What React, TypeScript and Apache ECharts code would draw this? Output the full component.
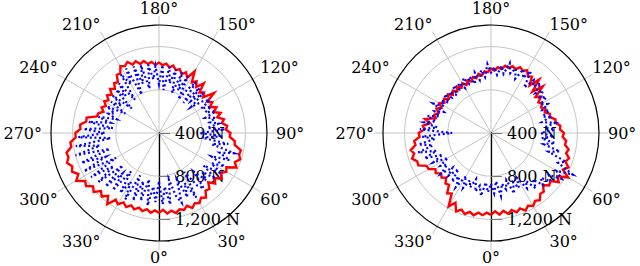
import React, { useEffect, useRef } from "react";
import * as echarts from "echarts";

// angle sampling (degrees) of each series value
const ANGLE_STEP = 3;

// left plot: measured force (red) and reference force (blue dotted), in N
const leftMeasured = [
  1140, 1112, 1150, 1128, 1158, 1132, 1150, 1122, 1160, 1130, 1150, 1115,
  1140, 1085, 1098, 1045, 1100, 1062, 1118, 1080, 1120, 1100, 1185, 1152,
  1190, 1168, 1175, 1110, 1105, 1055, 1062, 1020, 1035, 990, 1015, 958,
  1000, 942, 982, 930, 970, 932, 1030, 925, 962, 930, 1020, 948,
  992, 958, 1060, 975, 1015, 985, 1022, 1002, 1038, 1015, 1045, 1030,
  1052, 1032, 1062, 1048, 1082, 1062, 1098, 1078, 1120, 1095, 1115, 1058,
  1065, 1005, 1020, 978, 1010, 962, 995, 958, 985, 952, 982, 950,
  990, 995, 1085, 1082, 1135, 1128, 1175, 1172, 1225, 1222, 1275, 1268,
  1295, 1260, 1282, 1238, 1285, 1215, 1235, 1185, 1215, 1160, 1192, 1148,
  1215, 1135, 1162, 1122, 1150, 1118, 1143, 1115, 1140, 1114, 1142, 1118,
];
const leftReference = [
  850, 1060, 900, 1070, 840, 1000, 1080, 860, 1050, 920, 1090, 830,
  1000, 1060, 880, 1020, 940, 1070, 910, 1090, 960, 1080, 930, 1100,
  990, 1120, 900, 1050, 800, 990, 780, 1010, 850, 960, 880, 940,
  850, 960, 870, 940, 850, 960, 900, 780, 950, 820, 960, 760,
  980, 880, 760, 990, 830, 1000, 790, 1010, 870, 1020, 800, 1030,
  850, 1020, 900, 1040, 820, 1050, 880, 1060, 790, 1070, 920, 1050,
  780, 990, 860, 960, 740, 950, 830, 930, 760, 940, 850, 900,
  810, 980, 860, 1060, 830, 1100, 900, 1150, 850, 1180, 960, 1200,
  880, 1170, 940, 1180, 860, 1150, 920, 1120, 850, 1100, 900, 1080,
  840, 1060, 920, 1090, 830, 1070, 870, 1050, 840, 1080, 900, 1040,
];

// right plot
const rightMeasured = [
  1158, 1125, 1160, 1130, 1165, 1138, 1172, 1148, 1186, 1155, 1180, 1150,
  1170, 1125, 1130, 1080, 1125, 1108, 1175, 1135, 1225, 1148, 1185, 1138,
  1160, 1120, 1135, 1094, 1100, 1064, 1076, 1040, 1045, 1005, 1010, 965,
  974, 934, 950, 920, 946, 922, 972, 930, 1045, 942, 1065, 968,
  1045, 1028, 1070, 1048, 1066, 1034, 1050, 1024, 1036, 1000, 1012, 980,
  996, 964, 974, 940, 960, 925, 945, 910, 933, 898, 932, 900,
  932, 896, 928, 900, 935, 902, 938, 914, 952, 914, 952, 920,
  950, 930, 1025, 972, 1035, 1018, 1070, 1062, 1115, 1108, 1160, 1136,
  1168, 1132, 1136, 1070, 1066, 1014, 1032, 994, 1016, 986, 1030, 1018,
  1090, 1068, 1185, 1125, 1195, 1160, 1188, 1156, 1178, 1146, 1165, 1138,
];
const rightReference = [
  870, 960, 850, 990, 880, 940, 860, 1000, 900, 970, 880, 1010,
  950, 1060, 980, 1080, 1020, 1110, 1060, 1180, 1100, 1250, 1080, 1140,
  960, 1060, 900, 1000, 870, 980, 860, 990, 900, 1000, 880, 960,
  900, 980, 920, 990, 930, 1010, 960, 1020, 950, 1050, 980, 1030,
  920, 1080, 990, 1060, 950, 1040, 980, 1070, 960, 1030, 940, 1010,
  960, 1040, 920, 990, 900, 980, 880, 960, 900, 970, 880, 950,
  900, 960, 870, 940, 890, 960, 880, 950, 900, 1000, 880, 960,
  900, 1010, 920, 1030, 900, 1060, 760, 1040, 920, 1080, 950, 1100,
  930, 1060, 890, 1000, 860, 960, 900, 1000, 880, 960, 850, 980,
  900, 1000, 860, 970, 880, 940, 850, 960, 900, 990, 860, 950,
];

const angleTicks = [0, 30, 60, 90, 120, 150, 180, 210, 240, 270, 300, 330];
const radialTicks = [400, 800, 1200];
const RADIAL_MIN = 400;
const RADIAL_MAX = 1400;

const FONT = "'DejaVu Serif', 'Liberation Serif', serif";
const FONT_SIZE = 16;
const GRID = "#c4c4c4";

function toPolar(vals: number[]) {
  const d = vals.map((v, i) => [v, i * ANGLE_STEP]);
  d.push([vals[0], 360]);
  return d;
}

function angleAxis(idx: number) {
  return {
    polarIndex: idx,
    type: "value",
    min: 0,
    max: 360,
    interval: 30,
    startAngle: 270,
    clockwise: false,
    axisLine: { show: true, lineStyle: { color: "#000", width: 1.2 } },
    axisTick: { show: true, length: 9, lineStyle: { color: GRID, width: 1 } },
    axisLabel: {
      show: true,
      margin: 9,
      color: "#000",
      fontFamily: FONT,
      fontSize: FONT_SIZE,
      lineHeight: 15,
      formatter: (v: number) => (angleTicks.includes(v) ? `${v}°` : ""),
    },
    splitLine: { show: true, lineStyle: { color: GRID, width: 1 } },
  };
}

function radiusAxis(idx: number) {
  return {
    polarIndex: idx,
    type: "value",
    min: RADIAL_MIN,
    max: RADIAL_MAX,
    interval: 400,
    axisLine: { show: true, lineStyle: { color: "#000", width: 1.3 } },
    axisTick: { show: true, length: 11, lineStyle: { color: "#777", width: 1 } },
    axisLabel: {
      show: true,
      margin: 16,
      color: "#000",
      fontFamily: FONT,
      fontSize: FONT_SIZE,
      formatter: (v: number) =>
        radialTicks.includes(v) ? `${v.toLocaleString("en-US")} N` : "",
    },
    splitLine: {
      show: true,
      lineStyle: { color: [GRID, GRID, GRID, "rgba(0,0,0,0)"], width: 1 },
    },
  };
}

function series(idx: number, measured: number[], reference: number[]) {
  return [
    {
      type: "line",
      coordinateSystem: "polar",
      polarIndex: idx,
      data: toPolar(measured),
      showSymbol: false,
      lineStyle: {
        color: "#ff0000",
        width: 2.4,
        join: "miter",
        miterLimit: 6,
      },
      z: 3,
    },
    {
      type: "line",
      coordinateSystem: "polar",
      polarIndex: idx,
      data: toPolar(reference),
      showSymbol: false,
      lineStyle: {
        color: "#0000ff",
        width: 2.2,
        type: [2, 2.6],
        cap: "butt",
        join: "miter",
        miterLimit: 6,
      },
      z: 4,
    },
  ];
}

export default function App() {
  const ref = useRef<HTMLDivElement>(null);
  useEffect(() => {
    if (!ref.current) return;
    const chart = echarts.init(ref.current, null, { renderer: "svg" });
    chart.setOption({
      animation: false,
      backgroundColor: "#fff",
      polar: [
        { center: [159, 133], radius: 108 },
        { center: [491, 133], radius: 108 },
      ],
      angleAxis: [angleAxis(0), angleAxis(1)],
      radiusAxis: [radiusAxis(0), radiusAxis(1)],
      series: [
        ...series(0, leftMeasured, leftReference),
        ...series(1, rightMeasured, rightReference),
      ],
    });
    return () => chart.dispose();
  }, []);
  return (
    <div
      ref={ref}
      style={{ position: "fixed", left: 0, top: 0, width: 640, height: 266 }}
    />
  );
}
